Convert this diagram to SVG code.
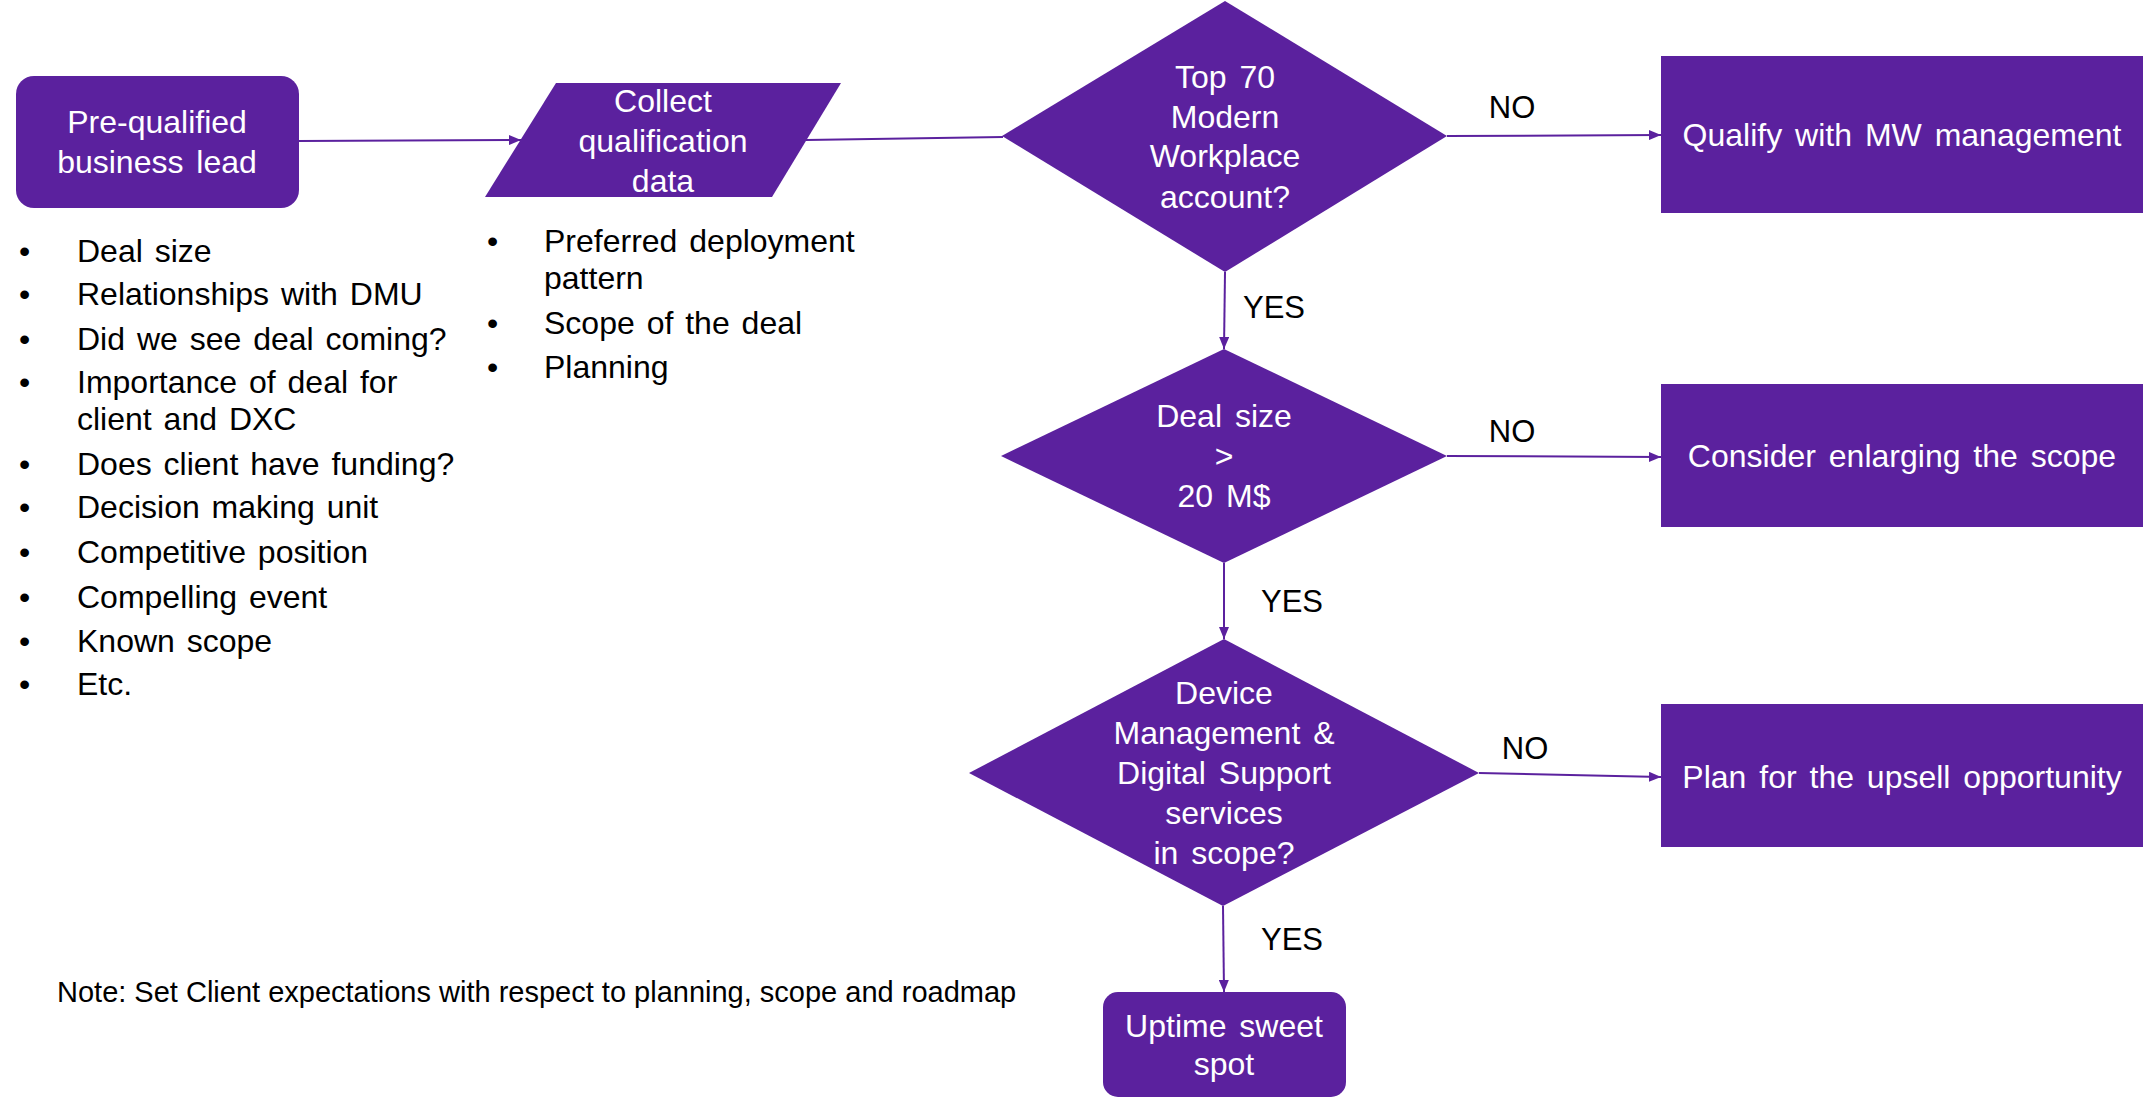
<svg xmlns="http://www.w3.org/2000/svg" width="2143" height="1105" viewBox="0 0 2143 1105">
<style>
.shape{fill:#5B219E;}
.nt{font-family:"Liberation Sans",Arial,sans-serif;font-size:32px;fill:#FFFFFF;text-anchor:middle;word-spacing:4px;}
.lbl{font-family:"Liberation Sans",Arial,sans-serif;font-size:31px;fill:#000000;text-anchor:middle;}
.bl{font-family:"Liberation Sans",Arial,sans-serif;font-size:32px;fill:#000000;word-spacing:3px;}
.note{font-family:"Liberation Sans",Arial,sans-serif;font-size:29px;fill:#000000;}
.con{stroke:#5B219E;stroke-width:2;fill:none;}
</style>
<defs>
<marker id="ah" viewBox="0 0 12 10" refX="12" refY="5" markerWidth="12" markerHeight="10" markerUnits="userSpaceOnUse" orient="auto">
<path d="M0,0 L12,5 L0,10 Z" fill="#5B219E"/>
</marker>
</defs>
<rect width="2143" height="1105" fill="#FFFFFF"/>

<g id="connectors">
<line class="con" x1="299" y1="141" x2="521" y2="140" marker-end="url(#ah)"/>
<line class="con" x1="806" y1="140" x2="1003" y2="137"/>
<line class="con" x1="1447" y1="136" x2="1661" y2="135" marker-end="url(#ah)"/>
<line class="con" x1="1225" y1="272" x2="1224" y2="349" marker-end="url(#ah)"/>
<line class="con" x1="1447" y1="456" x2="1661" y2="457" marker-end="url(#ah)"/>
<line class="con" x1="1224" y1="563" x2="1224" y2="639" marker-end="url(#ah)"/>
<line class="con" x1="1479" y1="773" x2="1661" y2="777" marker-end="url(#ah)"/>
<line class="con" x1="1223" y1="906" x2="1224" y2="992" marker-end="url(#ah)"/>
<text class="lbl" x="1512" y="118">NO</text>
<text class="lbl" x="1274" y="318">YES</text>
<text class="lbl" x="1512" y="442">NO</text>
<text class="lbl" x="1292" y="612">YES</text>
<text class="lbl" x="1525" y="759">NO</text>
<text class="lbl" x="1292" y="950">YES</text>
</g>

<g id="lead">
<rect class="shape" x="16" y="76" width="283" height="132" rx="18"/>
<text class="nt" x="157" y="133">Pre-qualified</text>
<text class="nt" x="157" y="173">business lead</text>
</g>

<g id="collect">
<polygon class="shape" points="556,83 841,83 772,197 485,197"/>
<text class="nt" x="663" y="112">Collect</text>
<text class="nt" x="663" y="152">qualification</text>
<text class="nt" x="663" y="192">data</text>
</g>

<g id="top70">
<polygon class="shape" points="1225,1 1447,136 1225,272 1002,136"/>
<text class="nt" x="1225" y="88">Top 70</text>
<text class="nt" x="1225" y="128">Modern</text>
<text class="nt" x="1225" y="167">Workplace</text>
<text class="nt" x="1225" y="208">account?</text>
</g>

<g id="qualify">
<rect class="shape" x="1661" y="56" width="482" height="157"/>
<text class="nt" x="1902" y="146">Qualify with MW management</text>
</g>

<g id="dealsize">
<polygon class="shape" points="1224,349 1447,456 1224,563 1001,456"/>
<text class="nt" x="1224" y="427">Deal size</text>
<text class="nt" x="1224" y="467">&gt;</text>
<text class="nt" x="1224" y="507">20 M$</text>
</g>

<g id="enlarge">
<rect class="shape" x="1661" y="384" width="482" height="143"/>
<text class="nt" x="1902" y="467">Consider enlarging the scope</text>
</g>

<g id="device">
<polygon class="shape" points="1224,639 1479,773 1223,906 969,773"/>
<text class="nt" x="1224" y="704">Device</text>
<text class="nt" x="1224" y="744">Management &amp;</text>
<text class="nt" x="1224" y="784">Digital Support</text>
<text class="nt" x="1224" y="824">services</text>
<text class="nt" x="1224" y="864">in scope?</text>
</g>

<g id="upsell">
<rect class="shape" x="1661" y="704" width="482" height="143"/>
<text class="nt" x="1902" y="788">Plan for the upsell opportunity</text>
</g>

<g id="uptime">
<rect class="shape" x="1103" y="992" width="243" height="105" rx="15"/>
<text class="nt" x="1224" y="1037">Uptime sweet</text>
<text class="nt" x="1224" y="1075">spot</text>
</g>

<g id="lead-criteria">
<text class="bl" x="19" y="262">•</text><text class="bl" x="77" y="262">Deal size</text>
<text class="bl" x="19" y="305">•</text><text class="bl" x="77" y="305">Relationships with DMU</text>
<text class="bl" x="19" y="350">•</text><text class="bl" x="77" y="350">Did we see deal coming?</text>
<text class="bl" x="19" y="393">•</text><text class="bl" x="77" y="393">Importance of deal for</text>
<text class="bl" x="77" y="430">client and DXC</text>
<text class="bl" x="19" y="475">•</text><text class="bl" x="77" y="475">Does client have funding?</text>
<text class="bl" x="19" y="518">•</text><text class="bl" x="77" y="518">Decision making unit</text>
<text class="bl" x="19" y="563">•</text><text class="bl" x="77" y="563">Competitive position</text>
<text class="bl" x="19" y="608">•</text><text class="bl" x="77" y="608">Compelling event</text>
<text class="bl" x="19" y="652">•</text><text class="bl" x="77" y="652">Known scope</text>
<text class="bl" x="19" y="695">•</text><text class="bl" x="77" y="695">Etc.</text>
</g>

<g id="qualification-data">
<text class="bl" x="487" y="252">•</text><text class="bl" x="544" y="252">Preferred deployment</text>
<text class="bl" x="544" y="289">pattern</text>
<text class="bl" x="487" y="334">•</text><text class="bl" x="544" y="334">Scope of the deal</text>
<text class="bl" x="487" y="378">•</text><text class="bl" x="544" y="378">Planning</text>
</g>

<g id="note">
<text class="note" x="57" y="1002">Note: Set Client expectations with respect to planning, scope and roadmap</text>
</g>
</svg>
